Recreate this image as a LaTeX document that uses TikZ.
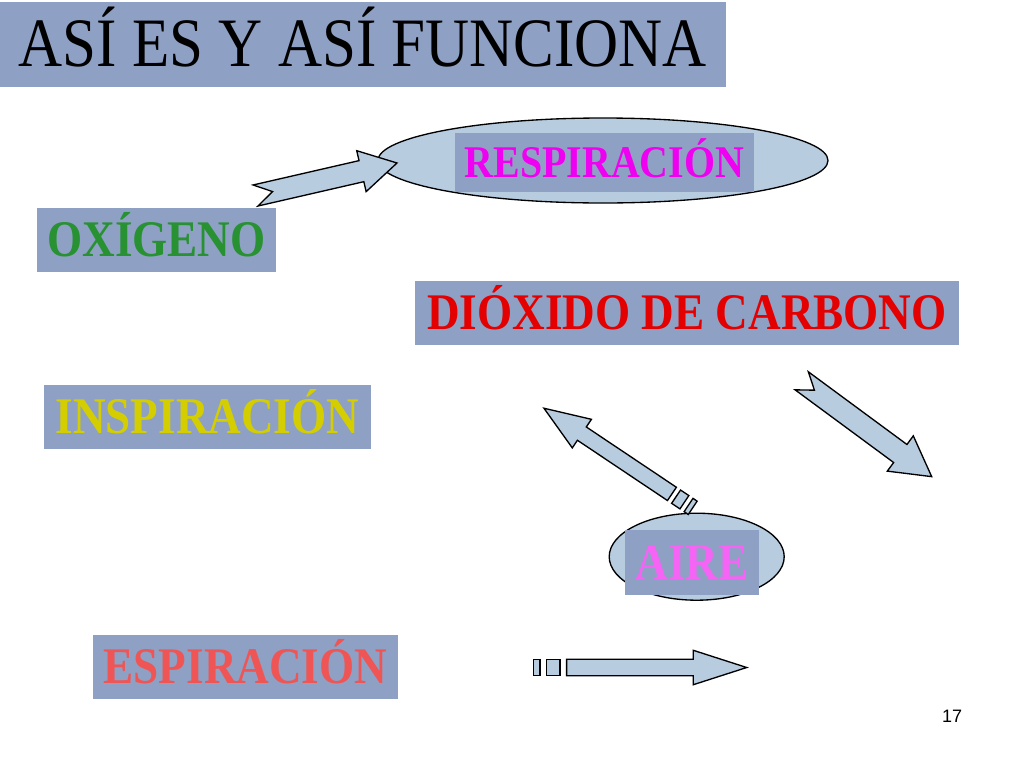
\documentclass[tikz,border=0pt]{standalone}
\usepackage{fontspec}
\usepackage{graphicx}
\setmainfont{Liberation Serif}
\newfontfamily\numfont{Liberation Sans}
\usetikzlibrary{shapes.geometric}
\definecolor{boxfill}{RGB}{142,160,196}
\definecolor{lightfill}{RGB}{184,204,224}
\definecolor{oxgreen}{RGB}{40,145,50}
\definecolor{respmag}{RGB}{240,0,240}
\definecolor{co2red}{RGB}{228,0,0}
\definecolor{inspyel}{RGB}{212,206,0}
\definecolor{espsalmon}{RGB}{240,85,85}
\definecolor{airepink}{RGB}{245,100,245}
\tikzset{
  labelbox/.style={fill=boxfill, draw=none, inner sep=0pt, align=center,
    text height=25.4pt, text depth=0pt,
    font=\fontsize{38.5}{40}\selectfont\bfseries},
  ovalback/.style={ellipse, fill=lightfill, draw=black, line width=1pt, inner sep=0pt},
  blockarrow/.style={fill=lightfill, draw=black, line width=1pt, line join=miter},
}
\newcommand\notched[5]{%
  \draw[blockarrow] (0,-#2) -- ({#1-#4},-#2) -- ({#1-#4},-#3) -- (#1,0) --
    ({#1-#4},#3) -- ({#1-#4},#2) -- (0,#2) -- (#5,0) -- cycle;}
\newcommand\striped[5]{%
  \draw[blockarrow] (0,-#2) rectangle (#5,#2);
  \draw[blockarrow] ({2*#5},-#2) rectangle ({4*#5},#2);
  \draw[blockarrow] ({5*#5},-#2) -- ({#1-#4},-#2) -- ({#1-#4},-#3) -- (#1,0) --
    ({#1-#4},#3) -- ({#1-#4},#2) -- ({5*#5},#2) -- cycle;}
\newcommand\xs[1]{\scalebox{0.88}[1]{#1}}
\begin{document}
\begin{tikzpicture}[x=0.75pt,y=-0.75pt]
\fill[white] (0,0) rectangle (1024,768);
\useasboundingbox (0,0) rectangle (1024,768);

% title
\node[fill=boxfill, inner sep=0pt, minimum width=544.5pt, minimum height=63.75pt,
  text height=34.3pt, text depth=0pt, font=\fontsize{52}{54}\selectfont]
  (title) at (363,44) {\xs{ASÍ ES Y ASÍ FUNCIONA}};

% ellipses
\node[ovalback, minimum width=337.5pt, minimum height=63.75pt] (respov) at (603,160.5) {};
\node[ovalback, minimum width=131.25pt, minimum height=65.25pt] (aireov) at (696.7,556.7) {};

% label boxes
\node[labelbox, minimum width=224.25pt, minimum height=44.25pt,
  text height=22.4pt, font=\fontsize{34}{36}\selectfont\bfseries, text=respmag]
  (resp) at (604.5,162.5) {\xs{RESPIRACIÓN}};
\node[labelbox, minimum width=179.25pt, minimum height=48pt, text=oxgreen]
  (oxi) at (156.5,240) {\xs{OXÍGENO}};
\node[labelbox, minimum width=408pt, minimum height=48pt, text=co2red]
  (co2) at (687,313) {\xs{DIÓXIDO DE CARBONO}};
\node[labelbox, minimum width=245.25pt, minimum height=48pt, text=inspyel]
  (insp) at (207.5,417) {\xs{INSPIRACIÓN}};
\node[labelbox, minimum width=100.5pt, minimum height=48.75pt, text=airepink]
  (aire) at (692,562.6) {\xs{AIRE}};
\node[labelbox, minimum width=228.75pt, minimum height=48pt, text=espsalmon]
  (esp) at (245.5,667) {\xs{ESPIRACIÓN}};

% block arrows
\coordinate (a1) at (255.5,195.5);
\coordinate (a2) at (692.7,507.8);
\coordinate (a3) at (533.3,667.5);
\coordinate (a4) at (801.7,380.8);
\begin{scope}[shift={(a1)}, rotate=12.94]
  \notched{145.2}{10.8}{21}{36.5}{17.5}
\end{scope}
\begin{scope}[shift={(a4)}, rotate=-36.4]
  \notched{161.5}{11.2}{21.9}{39}{15.8}
\end{scope}
\begin{scope}[shift={(a2)}, rotate=146.2]
  \striped{179}{8}{17.2}{45.6}{5}
\end{scope}
\begin{scope}[shift={(a3)}]
  \striped{213.4}{8.2}{17.2}{53.4}{6.67}
\end{scope}

% page number
\node[inner sep=0pt, font=\numfont\fontsize{13.5}{15}\selectfont] (pnum) at (952,716) {17};
\end{tikzpicture}
\end{document}
